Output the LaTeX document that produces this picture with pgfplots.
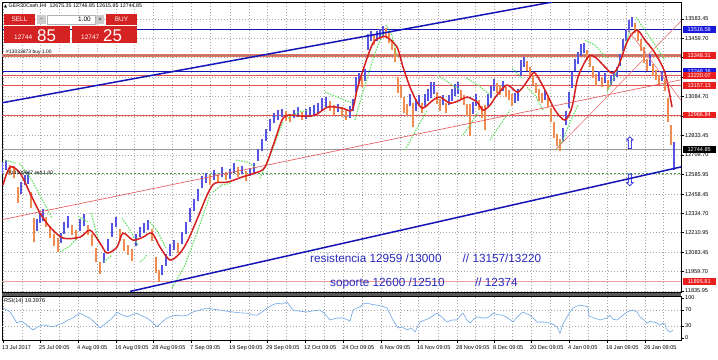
\documentclass[border=0pt]{standalone}
\usepackage{pgfplots}
\pgfplotsset{compat=1.18}
\usepackage{pgfplotstable}
\usepackage{fontspec}
\setmainfont{Liberation Sans}
\newfontfamily\symfont{DejaVu Sans}
\definecolor{barblue}{RGB}{85,85,225}
\definecolor{barorange}{RGB}{240,140,80}
\definecolor{maRed}{RGB}{215,30,30}
\definecolor{sarGreen}{RGB}{100,225,100}
\definecolor{chBlue}{RGB}{20,20,185}
\definecolor{lvlRed}{RGB}{228,80,80}
\definecolor{lvlCoral}{RGB}{228,115,95}
\definecolor{gridGray}{RGB}{165,165,165}
\definecolor{rsiBlue}{RGB}{110,165,230}
\definecolor{txtBlue}{RGB}{40,40,190}
\definecolor{panelRed}{RGB}{212,34,34}
\definecolor{lblBlue}{RGB}{25,25,220}
\definecolor{lblRed}{RGB}{235,30,30}

\tikzset{mtgrid/.style={gridGray, line width=0.5bp, dash pattern=on 1bp off 2bp}}
\newcommand{\tk}{\fontsize{5.6}{6}\selectfont}

% H4 bars, up (blue)
\pgfplotstableread{
x lo hi
2 12587 12665
6 12613 12677
21 12458 12536
25 12516 12580
28 12522 12600
37 12220 12298
40 12272 12336
43 12285 12363
61 12144 12208
64 12201 12279
68 12240 12318
80 12220 12298
84 12252 12330
104 12015 12079
108 12092 12170
112 12182 12272
116 12247 12311
136 12124 12202
140 12182 12246
144 12208 12272
148 12227 12291
162 11938 12002
166 11996 12074
170 12060 12138
174 12099 12163
182 12137 12215
186 12201 12279
190 12279 12369
194 12349 12427
198 12413 12491
202 12497 12575
206 12529 12593
214 12549 12613
222 12568 12632
230 12555 12619
234 12594 12658
242 12587 12639
250 12574 12626
254 12594 12658
258 12670 12748
262 12734 12812
266 12799 12877
270 12863 12941
274 12915 12979
278 12934 12998
282 12953 13005
294 12947 12999
298 12953 13017
306 12941 13005
310 12953 13017
314 12966 13030
318 12979 13043
322 12998 13076
326 13018 13082
338 12985 13037
350 12946 13024
353 12991 13069
356 13108 13210
359 13172 13236
365 13184 13262
368 13384 13486
371 13442 13506
377 13442 13506
380 13455 13519
383 13474 13538
410 13023 13101
416 12991 13069
419 13030 13094
425 13023 13101
428 13056 13134
431 13076 13178
434 13101 13179
443 13030 13094
449 13030 13094
452 13056 13134
455 13088 13166
458 13101 13179
473 12972 13050
476 13023 13101
488 13023 13101
491 13075 13153
494 13120 13198
503 13120 13184
515 13043 13107
518 13056 13134
521 13217 13319
524 13275 13339
545 13063 13127
563 12793 12883
566 12902 12992
569 13011 13113
572 13140 13242
575 13248 13326
578 13293 13371
581 13345 13423
584 13365 13429
599 13185 13249
605 13172 13236
611 13159 13223
614 13185 13249
617 13210 13274
620 13281 13359
623 13377 13455
626 13441 13519
629 13499 13577
632 13532 13596
650 13281 13359
662 13185 13249
674 12616 12790
}\upbars

% H4 bars, down (orange)
\pgfplotstableread{
x lo hi
10 12581 12645
14 12561 12639
18 12401 12503
31 12369 12471
34 12150 12304
46 12247 12311
50 12175 12253
54 12124 12202
58 12086 12176
72 12195 12259
76 12163 12227
88 12195 12259
92 12124 12202
96 12022 12112
100 11944 12022
120 12156 12234
124 12092 12170
128 12067 12131
132 12028 12106
152 12156 12234
156 11951 12053
159 11893 11971
178 12080 12144
210 12516 12580
218 12535 12587
226 12548 12600
238 12568 12632
246 12542 12606
286 12928 12992
290 12921 12973
302 12934 12986
330 12992 13056
334 12966 13030
342 12953 13017
346 12934 12998
362 13146 13210
374 13416 13480
386 13461 13525
389 13429 13493
392 13384 13448
395 13307 13397
398 13108 13210
401 13075 13153
404 12979 13081
407 12959 13037
413 12889 13043
422 12979 13043
437 13036 13114
440 12991 13069
446 12979 13043
461 13063 13127
464 13030 13094
467 12959 13037
470 12831 13037
479 12998 13062
482 12946 13024
485 12870 13030
497 13108 13172
500 13095 13159
506 13082 13146
509 13063 13127
512 13023 13101
527 13249 13313
530 13210 13274
533 13159 13223
536 13108 13172
539 13056 13134
542 13043 13107
548 13018 13082
551 12921 13011
554 12819 12921
557 12767 12845
560 12734 12812
587 13320 13384
590 13275 13339
593 13203 13281
596 13152 13230
602 13146 13210
608 13127 13191
635 13493 13557
638 13441 13519
641 13377 13455
644 13301 13403
647 13248 13326
653 13216 13294
656 13191 13255
659 13159 13223
665 13120 13198
668 12921 13075
671 12774 12902
}\downbars

\begin{document}
\begin{tikzpicture}[x=1bp,y=1bp]
\useasboundingbox (0,0) rectangle (718,-359);
\fill[white] (0,0) rectangle (718,-359);

\begin{axis}[
  scale only axis, width=679bp, height=290bp,
  at={(2bp,-292bp)}, anchor=south west,
  xmin=2, xmax=681, ymin=11829.4, ymax=13692.6,
  clip mode=individual,
  axis line style={black, line width=0.7bp},
  xtick={3,40,78,116,153,191,230,267,305,343,381,418,457,494,531,569,607,645},
  minor xtick={22,59,97,134,172,210,249,286,324,362,400,438,475,512,550,588,626,663},
  xticklabels={},
  xtick style={draw=none},
  ytick={11835.95,11959.70,12083.45,12210.95,12334.70,12458.45,12585.95,12709.70,12833.45,12959.70,13084.70,13209.70,13334.70,13459.70,13583.45},
  yticklabels={11835.95,11959.70,12083.45,12210.95,12334.70,12458.45,12585.95,12709.70,12833.45,{},13084.70,{},{},13459.70,13583.45},
  ytick pos=right,
  grid=both, major grid style={mtgrid}, minor grid style={mtgrid},
  tick align=outside, major tick length=2.5bp,
  ytick style={black, line width=0.5bp},
  yticklabel style={font=\tk, anchor=west, inner sep=0pt, xshift=1.5bp},
  /pgf/number format/assume math mode=true,
]
% horizontal levels
\addplot[lvlCoral, line width=2.4bp] coordinates {(2,13348.31) (681,13348.31)};
\addplot[black!50, line width=0.5bp, dash pattern=on 1bp off 1bp] coordinates {(2,13350) (681,13350)};
\addplot[chBlue, line width=1.2bp] coordinates {(2,13516.58) (681,13516.58)};
\addplot[chBlue, line width=1.1bp] coordinates {(2,13248.38) (681,13248.38)};
\addplot[lvlRed, line width=0.9bp] coordinates {(2,13220.07) (681,13220.07)};
\addplot[lvlRed, line width=0.9bp] coordinates {(2,13157.13) (681,13157.13)};
\addplot[lvlRed, line width=0.9bp] coordinates {(2,12966.84) (681,12966.84)};
\addplot[lvlRed!55, line width=1bp] coordinates {(2,11895.81) (681,11895.81)};
\addplot[sarGreen!70!black, line width=0.6bp, dash pattern=on 2bp off 2bp] coordinates {(2,12594) (681,12594)};
\addplot[black!40, line width=0.6bp] coordinates {(2,12744.85) (681,12744.85)};
% bars
\addplot[draw=none, mark=none, forget plot, line width=2.4bp,
  error bars/.cd, y dir=plus, y explicit, error mark=none,
  error bar style={draw=barblue, line width=2.4bp, solid}]
  table[x=x, y=lo, y error expr=\thisrow{hi}-\thisrow{lo}] {\upbars};
\addplot[draw=none, mark=none, forget plot, line width=2.4bp,
  error bars/.cd, y dir=plus, y explicit, error mark=none,
  error bar style={draw=barorange, line width=2.4bp, solid}]
  table[x=x, y=lo, y error expr=\thisrow{hi}-\thisrow{lo}] {\downbars};
% parabolic SAR
\addplot[sarGreen, line width=1.1bp, dash pattern=on 1.5bp off 1.2bp, unbounded coords=jump] coordinates {
(5,12677) (16,12658) (19,nan)
(19,12658) (30,12568) (40,12452) (52,12304) (53,nan)
(60,12086) (70,12125) (77,12176) (77.5,nan)
(78,12317) (88,12279) (89,nan)
(91,12337) (100,12131) (101,nan)
(104,12022) (112,12067) (113,nan)
(122,12304) (130,12227) (138,12131) (139,nan)
(140,12022) (147,12067) (148,nan)
(150,12279) (158,12214) (166,12112) (167,nan)
(172,11855) (185,12002) (198,12227) (210,12452) (211,nan)
(213,12471) (222,12517) (232,12529) (233,nan)
(236,12677) (248,12664) (256,12626) (257,nan)
(260,12561) (268,12677) (276,12806) (283,12921) (284,nan)
(288,12947) (298,12985) (308,12998) (309,nan)
(325,13114) (340,13075) (352,13043) (353,nan)
(355,12934) (362,13095) (368,13223) (376,13384) (383,13493) (384,nan)
(386,13545) (392,13480) (397,13339) (398,nan)
(405,12741) (415,12857) (427,12998) (428,nan)
(437,13223) (448,13178) (460,13127) (461,nan)
(463,12838) (470,12902) (478,12985) (479,nan)
(466,13204) (478,13159) (490,13095) (491,nan)
(490,12806) (500,12902) (510,12998) (511,nan)
(512,13268) (522,13204) (523,nan)
(527,13146) (535,13095) (543,12998) (544,nan)
(556,12741) (563,12806) (570,12921) (578,13030) (579,nan)
(585,13448) (595,13416) (606,13332) (607,nan)
(607,13114) (615,13223) (622,13352) (630,13512) (631,nan)
(636,13596) (645,13512) (655,13416) (665,13320)
};
% moving average
\addplot[maRed, line width=1.5bp, smooth, tension=0.5] coordinates {
(3,12517) (10,12632) (20,12594) (30,12465) (40,12337) (50,12247) (63,12176)
(80,12182) (90,12227) (100,12144) (107,12080) (117,12118) (123,12208) (133,12163)
(143,12182) (152,12208) (160,12118) (170,12035) (180,12080) (188,12163) (198,12311)
(208,12465) (215,12529) (228,12536) (242,12568) (255,12594) (265,12632) (275,12806)
(282,12934) (288,12966) (302,12960) (315,12966) (328,13018) (342,13011) (352,12998)
(357,13127) (363,13255) (373,13429) (382,13467) (387,13467) (397,13403) (403,13275)
(410,13146) (417,13050) (423,13011) (433,13062) (440,13082) (450,13043) (460,13062)
(467,13082) (477,13050) (483,12998) (490,13030) (497,13095) (507,13159) (517,13114)
(523,13146) (530,13210) (535,13236) (545,13127) (555,12998) (565,12934) (572,13018)
(578,13210) (588,13339) (595,13339) (605,13275) (612,13236) (618,13275) (628,13448)
(637,13512) (645,13448) (655,13364) (665,13236) (672,13018)
};
% trend lines and channel
\addplot[lvlRed, line width=0.6bp] coordinates {(2,12294) (681,13193)};
\addplot[lvlRed!80, line width=0.6bp] coordinates {(555,12741) (681,13570)};
\addplot[lvlRed!80, line width=0.6bp] coordinates {(628,13512) (681,13062)};
\addplot[chBlue, line width=1.5bp] coordinates {(2,13045) (552,13692)};
\addplot[chBlue, line width=1.5bp] coordinates {(130,11833) (681,12633)};
% right-hand price labels
\tikzset{plbl/.style={anchor=west, xshift=1.5bp, inner sep=0pt, minimum width=33bp, minimum height=6.6bp, text=white, font=\tk}}
\node[plbl, fill=lblBlue] at (axis cs:681,13516.58) {13516.58};
\node[plbl, fill=lblRed] at (axis cs:681,13348.31) {13348.31};
\node[plbl, fill=lblBlue] at (axis cs:681,13248.38) {13248.38};
\node[plbl, fill=lblRed] at (axis cs:681,13220.07) {13220.07};
\node[plbl, fill=lblRed] at (axis cs:681,13157.13) {13157.13};
\node[plbl, fill=lblRed] at (axis cs:681,12966.84) {12966.84};
\node[plbl, fill=black] at (axis cs:681,12744.85) {12744.85};
\node[plbl, fill=lblRed] at (axis cs:681,11895.81) {11895.81};
\end{axis}

% separator between panels
\fill[black!65] (2,-292.5) rectangle (681,-295.5);

\begin{axis}[
  scale only axis, width=679bp, height=44bp,
  at={(2bp,-340bp)}, anchor=south west,
  xmin=2, xmax=681, ymin=-5, ymax=105,
  axis line style={black, line width=0.7bp},
  xtick={3,40,78,116,153,191,230,267,305,343,381,418,457,494,531,569,607,645},
  minor xtick={22,59,97,134,172,210,249,286,324,362,400,438,475,512,550,588,626,663},
  xticklabels={13 Jul 2017,25 Jul 09:05,4 Aug 09:05,16 Aug 09:05,28 Aug 09:05,7 Sep 09:05,19 Sep 09:05,29 Sep 09:05,12 Oct 09:05,24 Oct 09:05,6 Nov 09:05,16 Nov 09:05,28 Nov 09:05,8 Dec 09:05,20 Dec 09:05,4 Jan 09:05,16 Jan 09:05,26 Jan 09:05},
  xtick pos=bottom, ytick pos=right,
  ytick={0,30,70,100}, yticklabels={0,30,70,100},
  xmajorgrids=true, xminorgrids=true, ymajorgrids=false,
  major grid style={mtgrid}, minor grid style={mtgrid},
  tick align=outside, major tick length=2.5bp, minor tick length=0pt,
  tick style={black, line width=0.5bp},
  xticklabel style={font=\tk, anchor=north west, inner sep=0pt, yshift=-3bp, xshift=-1bp},
  yticklabel style={font=\tk, anchor=west, inner sep=0pt, xshift=1.5bp},
  /pgf/number format/assume math mode=true,
]
\addplot[mtgrid, forget plot] coordinates {(2,30) (681,30)};
\addplot[mtgrid, forget plot] coordinates {(2,70) (681,70)};
\addplot[rsiBlue, line width=0.6bp] coordinates {
(3,75) (7,70) (10,65) (14,50) (17,37) (20,42) (23,40) (28,30) (33,20) (38,28) (43,33)
(48,30) (53,28) (58,33) (63,37) (68,45) (73,50) (77,58) (80,62) (85,55) (90,50) (95,38)
(100,25) (105,35) (110,45) (114,55) (117,65) (122,58) (127,53) (132,58) (137,62) (142,55)
(147,50) (152,40) (157,28) (162,40) (167,50) (172,55) (177,57) (182,55) (187,57) (193,65)
(200,70) (207,75) (213,72) (220,70) (227,67) (233,65) (240,63) (247,62) (252,58) (257,57)
(262,65) (267,75) (272,82) (277,87) (282,85) (287,90) (290,80) (293,70) (300,67) (307,65)
(313,68) (320,70) (325,60) (330,45) (337,50) (343,50) (348,45) (350,42) (353,70) (357,75)
(360,78) (363,85) (367,87) (372,84) (377,82) (382,80) (387,75) (390,60) (393,45) (398,25)
(402,28) (407,20) (411,25) (415,15) (420,40) (425,45) (430,50) (434,58) (437,62) (442,52)
(447,40) (452,45) (457,45) (460,55) (463,62) (467,45) (470,37) (474,48) (477,53) (482,50)
(487,50) (490,55) (493,62) (498,58) (503,57) (508,50) (513,40) (518,55) (523,65) (527,60)
(530,57) (534,48) (537,40) (544,40) (550,37) (554,33) (557,28) (560,12) (563,35) (567,53)
(570,65) (573,75) (577,80) (580,82) (585,80) (588,78) (589,55) (594,50) (600,45) (604,48)
(607,50) (610,57) (613,47) (617,45) (622,55) (627,65) (630,68) (633,70) (637,65) (640,53)
(644,45) (647,37) (650,42) (653,40) (657,38) (660,32) (663,37) (665,35) (667,20) (670,15)
(673,19)
};
\end{axis}

% annotations
\node[anchor=north west, inner sep=0pt, font=\tk] at (4,-298) {RSI(14) 19.3976};
\node[anchor=west, inner sep=0pt, text=txtBlue, font=\fontsize{11.8}{12}\selectfont] at (310,-258) {resistencia 12959 /13000\hspace{1.8em}// 13157/13220};
\node[anchor=west, inner sep=0pt, text=txtBlue, font=\fontsize{11.8}{12}\selectfont] at (330,-283) {soporte 12600 /12510\hspace{2.6em}// 12374};
\node[text=lblBlue, font=\symfont\fontsize{17}{17}\selectfont, inner sep=0pt] at (630,-143) {⇧};
\node[text=lblBlue, font=\symfont\fontsize{17}{17}\selectfont, inner sep=0pt] at (630,-181) {⇩};
\node[anchor=west, inner sep=0pt, font=\fontsize{5}{5}\selectfont] at (8,-173) {\#13109607 sell 1.00};
\node[anchor=west, inner sep=0pt, font=\fontsize{5}{5}\selectfont] at (6,-52) {\#13033873 buy 1.00};

% header and trade panel
\node[anchor=west, inner sep=0pt, font=\fontsize{5.3}{5.5}\selectfont] at (4,-6) {{\symfont\fontsize{4}{4}\selectfont ▲} GER30Cash,H4\ \ 12675.35 12746.85 12615.85 12744.85};
\fill[panelRed] (4,-14) rectangle (35,-25);
\node[text=white, font=\fontsize{6.5}{7}\selectfont] at (19.5,-19.5) {SELL};
\fill[black!20] (37,-15) rectangle (46,-24);
\node[font=\fontsize{6}{6}\selectfont] at (41.5,-19.5) {-};
\draw[black!30, fill=white] (47,-15) rectangle (95,-24);
\node[anchor=east, inner sep=0pt, font=\fontsize{6.5}{7}\selectfont] at (91,-19.5) {1.00};
\fill[black!20] (96,-15) rectangle (104,-24);
\node[font=\fontsize{6}{6}\selectfont] at (100,-19.5) {+};
\fill[panelRed] (106,-14) rectangle (137,-25);
\node[text=white, font=\fontsize{6.5}{7}\selectfont] at (121.5,-19.5) {BUY};
\fill[panelRed] (4,-26) rectangle (70,-43);
\fill[panelRed] (72,-26) rectangle (137,-43);
\node[anchor=base west, inner sep=0pt, text=white, font=\fontsize{6.5}{7}\selectfont] at (14,-39) {12744};
\node[anchor=base west, inner sep=0pt, text=white, font=\fontsize{17}{17}\selectfont] at (37,-41) {85};
\node[anchor=base west, inner sep=0pt, text=white, font=\fontsize{6.5}{7}\selectfont] at (81,-39) {12747};
\node[anchor=base west, inner sep=0pt, text=white, font=\fontsize{17}{17}\selectfont] at (103,-41) {25};
\end{tikzpicture}
\end{document}
